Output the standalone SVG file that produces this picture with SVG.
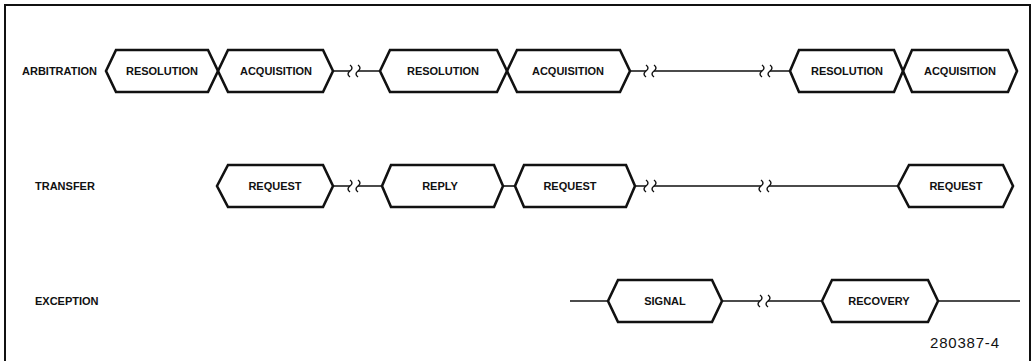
<svg xmlns="http://www.w3.org/2000/svg" width="1034" height="361" viewBox="0 0 1034 361">
<style>
.hex{fill:none;stroke:#111;stroke-width:2.6;stroke-linejoin:miter}
.ln{fill:none;stroke:#111;stroke-width:1.6}
.wg{fill:none;stroke:#111;stroke-width:1.4}
.t{font-family:"Liberation Sans",Arial,sans-serif;font-weight:bold;font-size:11px;fill:#111;text-anchor:middle}
.lbl{font-family:"Liberation Sans",Arial,sans-serif;font-weight:bold;font-size:11px;fill:#111}
.fig{font-family:"Liberation Sans",Arial,sans-serif;font-size:15px;fill:#111;letter-spacing:0.8px}
.frame{fill:none;stroke:#111;stroke-width:2}
</style>
<defs>
<path id="w" d="M0,-6 Q4,-3 0,0 Q-4,3 0,6"/>
</defs>
<path class="frame" d="M5,361 V5 H1030 V361"/>
<g id="labels">
<text class="lbl" x="22" y="75">ARBITRATION</text>
<text class="lbl" x="35" y="190">TRANSFER</text>
<text class="lbl" x="35" y="305">EXCEPTION</text>
</g>
<g id="connectors">
<path class="ln" d="M333,71 H350 M358,71 H380"/>
<use href="#w" class="wg" x="350" y="71"/><use href="#w" class="wg" x="358" y="71"/>
<path class="ln" d="M630,71 H646 M654,71 H762 M770,71 H790"/>
<use href="#w" class="wg" x="646" y="71"/><use href="#w" class="wg" x="654" y="71"/>
<use href="#w" class="wg" x="762" y="71"/><use href="#w" class="wg" x="770" y="71"/>
<path class="ln" d="M333,186 H350 M358,186 H382"/>
<use href="#w" class="wg" x="350" y="186"/><use href="#w" class="wg" x="358" y="186"/>
<path class="ln" d="M503,186 H515"/>
<path class="ln" d="M635,186 H646 M654,186 H761 M769,186 H898"/>
<use href="#w" class="wg" x="646" y="186"/><use href="#w" class="wg" x="654" y="186"/>
<use href="#w" class="wg" x="761" y="186"/><use href="#w" class="wg" x="769" y="186"/>
<path class="ln" d="M570,301 H608"/>
<path class="ln" d="M722,301 H760 M768,301 H822"/>
<use href="#w" class="wg" x="760" y="301"/><use href="#w" class="wg" x="768" y="301"/>
<path class="ln" d="M938,301 H1020"/>
</g>
<g id="arb-resolution-1">
<path class="hex" d="M106,71 L116,50 H208 L218,71 L208,92 H116 Z"/>
<text class="t" x="162" y="75">RESOLUTION</text>
</g>
<g id="arb-acquisition-1">
<path class="hex" d="M218,71 L228,50 H323 L333,71 L323,92 H228 Z"/>
<text class="t" x="276" y="75">ACQUISITION</text>
</g>
<g id="arb-resolution-2">
<path class="hex" d="M380,71 L390,50 H497 L507,71 L497,92 H390 Z"/>
<text class="t" x="443" y="75">RESOLUTION</text>
</g>
<g id="arb-acquisition-2">
<path class="hex" d="M507,71 L517,50 H620 L630,71 L620,92 H517 Z"/>
<text class="t" x="568" y="75">ACQUISITION</text>
</g>
<g id="arb-resolution-3">
<path class="hex" d="M790,71 L799,50 H894 L903,71 L894,92 H799 Z"/>
<text class="t" x="847" y="75">RESOLUTION</text>
</g>
<g id="arb-acquisition-3">
<path class="hex" d="M903,71 L912,50 H1008 L1017,71 L1008,92 H912 Z"/>
<text class="t" x="960" y="75">ACQUISITION</text>
</g>
<g id="xfer-request-1">
<path class="hex" d="M217,186 L228,165 H323 L333,186 L323,207 H228 Z"/>
<text class="t" x="275" y="190">REQUEST</text>
</g>
<g id="xfer-reply">
<path class="hex" d="M382,186 L391,165 H494 L503,186 L494,207 H391 Z"/>
<text class="t" x="440" y="190">REPLY</text>
</g>
<g id="xfer-request-2">
<path class="hex" d="M515,186 L524,165 H626 L635,186 L626,207 H524 Z"/>
<text class="t" x="570" y="190">REQUEST</text>
</g>
<g id="xfer-request-3">
<path class="hex" d="M898,186 L909,165 H1003 L1013,186 L1003,207 H909 Z"/>
<text class="t" x="956" y="190">REQUEST</text>
</g>
<g id="exc-signal">
<path class="hex" d="M608,301 L618,280 H712 L722,301 L712,322 H618 Z"/>
<text class="t" x="665" y="305">SIGNAL</text>
</g>
<g id="exc-recovery">
<path class="hex" d="M822,301 L832,280 H928 L938,301 L928,322 H832 Z"/>
<text class="t" x="879" y="305">RECOVERY</text>
</g>
<text class="fig" x="930" y="348">280387-4</text>
</svg>
